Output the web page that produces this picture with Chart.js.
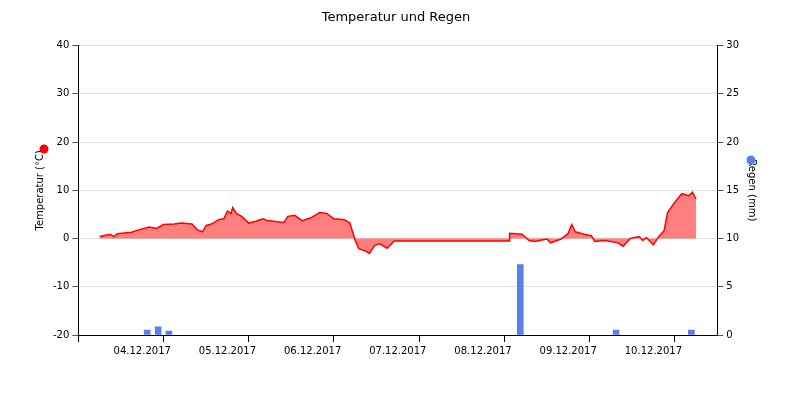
<!DOCTYPE html>
<html>
<head>
<meta charset="utf-8">
<script src="https://cdn.jsdelivr.net/npm/chart.js@4"></script>
<style>
  body { margin: 0; background: #fff; }
  #wrap { width: 800px; height: 400px; }
</style>
</head>
<body>
<div id="wrap"><canvas id="chart"></canvas></div>
<script>
// Stunden seit 04.12.2017 00:00
const tempHours = [0, 3, 4, 5, 9, 11, 14, 16, 18, 21, 23, 26, 27.5, 29, 30, 31.5, 33.5, 35, 36, 37, 37.5, 38.5, 40, 42, 44, 46, 47, 51, 52, 53, 55, 57, 59.5, 62, 64, 66, 69, 70.5, 72, 73, 75, 76, 77.5, 79, 81, 83, 115.4, 115.5, 119, 121, 122.5, 126, 127, 130, 132, 133, 134, 136.5, 138.5, 139.5, 142.5, 146, 147.5, 149.5, 152, 153, 154, 156, 157.5, 159, 160, 162, 164, 166, 167, 168];
const tempValues = [0.4, 0.9, 0.4, 1.0, 1.3, 1.8, 2.4, 2.1, 2.9, 3.0, 3.2, 3.0, 1.8, 1.4, 2.7, 3.0, 3.9, 4.1, 5.7, 5.2, 6.4, 5.2, 4.6, 3.2, 3.6, 4.1, 3.8, 3.4, 3.4, 4.6, 4.8, 3.7, 4.3, 5.4, 5.2, 4.1, 3.9, 3.2, -0.4, -2.1, -2.6, -3.1, -1.4, -1.1, -2.0, -0.5, -0.5, 1.1, 0.9, -0.4, -0.6, -0.1, -0.9, -0.1, 1.1, 2.9, 1.4, 0.9, 0.6, -0.6, -0.4, -0.9, -1.6, 0, 0.4, -0.4, 0.2, -1.3, 0.4, 1.6, 5.4, 7.5, 9.3, 8.9, 9.6, 8.2];
const rainHours = [13.4, 16.5, 19.5, 118.5, 145.5, 166.7];
const rainValues = [0.5, 0.85, 0.4, 7.3, 0.5, 0.5];
const dayLabels = ['04.12.2017', '05.12.2017', '06.12.2017', '07.12.2017', '08.12.2017', '09.12.2017', '10.12.2017'];

const dots = {
  id: 'dots',
  afterDraw(chart) {
    const c = chart.ctx;
    c.save();
    c.fillStyle = '#ff0000';
    c.beginPath(); c.arc(44, 149, 4.5, 0, Math.PI * 2); c.fill();
    c.fillStyle = '#5b7fe8';
    c.beginPath(); c.arc(751, 160, 4.5, 0, Math.PI * 2); c.fill();
    c.restore();
  }
};

Chart.defaults.font.family = 'DejaVu Sans';
Chart.defaults.font.size = 10;
Chart.defaults.color = '#000';

new Chart(document.getElementById('chart'), {
  type: 'bar',
  data: {
    datasets: [{
      type: 'line',
      label: 'Temperatur',
      data: tempHours.map((h, i) => ({ x: h, y: tempValues[i] })),
      borderColor: '#ff0000',
      backgroundColor: 'rgba(255,0,0,0.5)',
      borderWidth: 1.5,
      pointRadius: 0,
      fill: 'origin',
      yAxisID: 'y',
      order: 2
    }, {
      label: 'Regen',
      data: rainHours.map((h, i) => ({ x: h, y: rainValues[i] })),
      backgroundColor: '#5b7fe8',
      barThickness: 6,
      yAxisID: 'y1',
      order: 1
    }]
  },
  options: {
    responsive: true,
    maintainAspectRatio: false,
    animation: false,
    layout: { padding: { left: 30, right: 38, top: 0, bottom: 40 } },
    plugins: {
      legend: { display: false },
      tooltip: { enabled: false },
      title: { display: true, text: 'Temperatur und Regen', font: { size: 13, weight: 'normal' }, padding: { top: 10, bottom: 20 } }
    },
    scales: {
      x: {
        type: 'linear',
        min: 0, max: 168,
        border: { color: '#000' },
        grid: {
          drawOnChartArea: false,
          tickLength: 7,
          tickColor: ctx => (ctx.tick && ctx.tick.value % 24 === 0) ? '#000' : 'rgba(0,0,0,0)'
        },
        ticks: {
          stepSize: 12, autoSkip: false, maxRotation: 0,
          callback: v => (v % 24 === 12) ? dayLabels[(v - 12) / 24] : ''
        }
      },
      y: {
        position: 'left',
        min: -20, max: 40,
        border: { color: '#000' },
        ticks: { stepSize: 10 },
        grid: {
          color: ctx => ctx.tick && ctx.tick.value === 0 ? '#e0e0e0' : '#e0e0e0',
          tickColor: '#555',
          tickLength: 6
        },
        title: { display: true, text: 'Temperatur (°C)', font: { size: 10 } }
      },
      y1: {
        position: 'right',
        min: 0, max: 30,
        border: { color: '#000' },
        ticks: { stepSize: 5 },
        grid: { drawOnChartArea: false, tickColor: '#555', tickLength: 6 },
        title: { display: true, text: 'Regen (mm)', font: { size: 10 } }
      }
    }
  },
  plugins: [dots, {
    id: 'dashGrid',
    beforeDraw(chart) {
      chart.options.scales.y.border.dash = [];
    }
  }]
});
// dashed horizontal grid
Chart.getChart('chart').options.scales.y.border.dash = [];
Chart.getChart('chart').options.scales.y.grid.tickBorderDash = [];
Chart.getChart('chart').options.scales.y.border.dashOffset = 0;
Chart.getChart('chart').update();
</script>
</body>
</html>
